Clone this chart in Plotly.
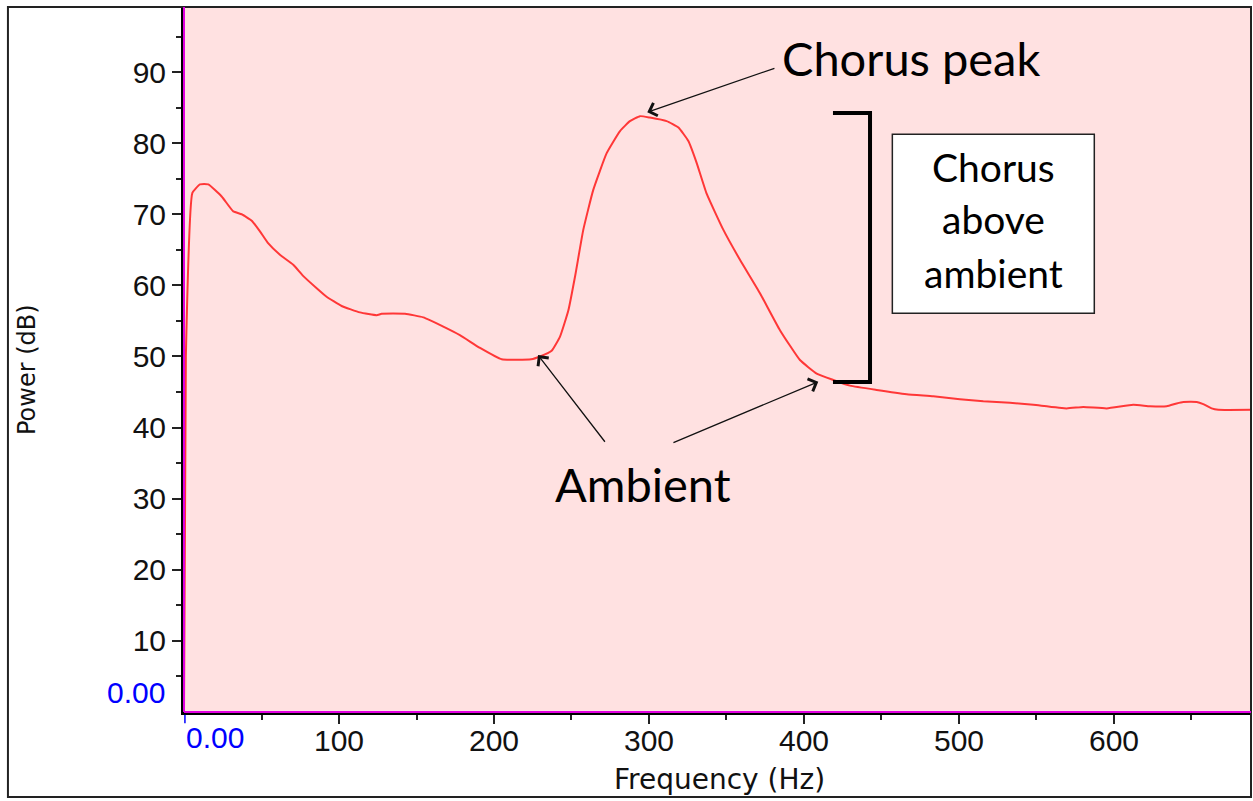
import plotly.graph_objects as go

# ---- data ----
freq_hz = [0, 1.2, 5.4, 10.3, 15.7, 24.3, 31.8, 37.2, 43.7, 49, 54.4, 61.9, 70.5, 77, 85.6, 92,
           101.7, 113.5, 124.3, 127.5, 142.6, 154.4, 167.3, 178, 191, 205, 224, 229.7, 237.2,
           242.6, 248, 252.5, 257.6, 264, 272.7, 281.3, 287.7, 294.2, 300.6, 311.4, 319, 325.4,
           330.8, 337.2, 348, 358.7, 371.6, 384.5, 397.4, 408.2, 418.9, 429.7, 446.9, 466.3,
           483.4, 500.6, 515.7, 532.9, 548, 569.5, 580.2, 595.3, 612.5, 623.2, 634, 640.4,
           644.7, 653.4, 657.6, 663, 667.3, 689.7]
power_db = [0, 50, 73.0, 74.2, 74.2, 72.5, 70.4, 70.0, 69.1, 67.6, 65.9, 64.3, 62.9, 61.3, 59.6,
            58.4, 57.1, 56.2, 55.8, 56.0, 56.0, 55.5, 54.2, 53.0, 51.2, 49.6, 49.6, 50.0, 50.8,
            52.8, 56.5, 61.5, 67.8, 73.4, 78.6, 81.7, 83.1, 83.8, 83.6, 83.1, 82.2, 80.3, 77.2,
            72.9, 67.8, 63.6, 58.9, 53.7, 49.5, 47.6, 46.7, 45.9, 45.3, 44.7, 44.4, 44.0, 43.7,
            43.5, 43.2, 42.7, 42.9, 42.7, 43.2, 43.0, 43.0, 43.4, 43.6, 43.6, 43.3, 42.7, 42.5,
            42.5]

x_tick_vals = [100, 200, 300, 400, 500, 600]
x_minor_vals = [50, 150, 250, 350, 450, 550, 650]
y_tick_vals = [10, 20, 30, 40, 50, 60, 70, 80, 90]
y_minor_vals = [5, 15, 25, 35, 45, 55, 65, 75, 85, 95]
x_title = "Frequency (Hz)"
y_title = "Power (dB)"
zero_label = "0.00"

# annotation anchor values (data units)
peak_label = "Chorus peak"
peak_point = (298.9, 84.35)
peak_tail = (381.9, 90.6)
ambient_label = "Ambient"
ambient_points = [(228.4, 50.2), (409.2, 46.45)]
ambient_tails = [(272.3, 37.8), (314.8, 37.8)]
bracket_top = 84.25
bracket_bottom = 46.41
bracket_x = (418.7, 442.6)
box_x = (457.0, 587.3)
box_y = (56.08, 81.25)
box_lines = ["Chorus", "above", "ambient"]
box_line_y = [76.6, 69.3, 61.7]

AX_FONT = "Liberation Sans, Arial, sans-serif"
TITLE_FONT = "DejaVu Sans, sans-serif"
NOTE_FONT = "Lato, Carlito, sans-serif"

fig = go.Figure()
fig.add_trace(go.Scatter(x=freq_hz, y=power_db, mode="lines",
                         line=dict(color="rgb(255,55,55)", width=2, shape="spline", smoothing=0.4),
                         hoverinfo="skip", showlegend=False))

axis_common = dict(showgrid=False, zeroline=False, showline=True, linecolor="black",
                   linewidth=3, ticks="outside", ticklen=9, tickwidth=1.5, tickcolor="#222",
                   tickfont=dict(family=AX_FONT, size=30, color="#111"))

fig.update_layout(
    width=1253, height=801,
    margin=dict(l=184, r=2, t=7, b=89),
    paper_bgcolor="white", plot_bgcolor="#FFE1E1",
    xaxis=dict(range=[0, 688.4], tickvals=x_tick_vals, ticklabelstandoff=-9,
               minor=dict(tickvals=x_minor_vals, ticks="outside", ticklen=5, tickcolor="#222",
                          tickwidth=1.5),
               **axis_common),
    yaxis=dict(range=[0, 99.15], tickvals=y_tick_vals,
               minor=dict(tickvals=y_minor_vals, ticks="outside", ticklen=5, tickcolor="#222",
                          tickwidth=1.5),
               **axis_common),
)

shapes = []
# outer frame
shapes.append(dict(type="rect", xref="paper", yref="paper", x0=-0.165, x1=1.0, y0=-0.1206, y1=1.0,
                   line=dict(color="#222", width=2), fillcolor="rgba(0,0,0,0)", layer="above"))
# magenta inner axis lines
shapes.append(dict(type="line", xref="paper", yref="paper", x0=0, x1=0, y0=0, y1=1,
                   line=dict(color="#E000E0", width=2), layer="above"))
shapes.append(dict(type="line", xref="paper", yref="paper", x0=0, x1=1, y0=0, y1=0,
                   line=dict(color="#E000E0", width=2), layer="above"))
# blue zero tick on x axis
shapes.append(dict(type="line", xref="x", yref="paper", x0=0.6, x1=0.6, y0=-0.004, y1=-0.016,
                   line=dict(color="blue", width=1.5)))
# bracket
bx0, bx1 = bracket_x
shapes.append(dict(type="path", xref="x", yref="y",
                   path=f"M {bx0},{bracket_top} L {bx1},{bracket_top} L {bx1},{bracket_bottom} L {bx0},{bracket_bottom}",
                   line=dict(color="black", width=4), layer="above"))
# box
shapes.append(dict(type="rect", xref="x", yref="y", x0=box_x[0], x1=box_x[1], y0=box_y[0], y1=box_y[1],
                   line=dict(color="#222", width=1.5), fillcolor="white", layer="above"))
fig.update_layout(shapes=shapes)

ann = []
# axis titles
ann.append(dict(text=x_title, xref="paper", yref="paper", x=(719 - 184) / 1067, y=(712 - 780) / 705,
                showarrow=False, font=dict(family=TITLE_FONT, size=28, color="#111"),
                xanchor="center", yanchor="middle"))
ann.append(dict(text=y_title, xref="paper", yref="paper", x=(27 - 184) / 1067, y=(712 - 370) / 705,
                showarrow=False, textangle=-90, font=dict(family=TITLE_FONT, size=24, color="#111"),
                xanchor="center", yanchor="middle"))
# blue zero labels
ann.append(dict(text=zero_label, xref="paper", yref="y", x=0, y=0, xanchor="right", yanchor="middle",
                xshift=-17, yshift=20, showarrow=False,
                font=dict(family=AX_FONT, size=30, color="blue")))
ann.append(dict(text=zero_label, xref="x", yref="paper", x=0, y=0, xanchor="left", yanchor="top",
                yshift=-7, showarrow=False,
                font=dict(family=AX_FONT, size=30, color="blue")))
# arrows
def arrow(head, tail):
    return dict(x=head[0], y=head[1], ax=tail[0], ay=tail[1], xref="x", yref="y",
                axref="x", ayref="y", text="", showarrow=True, arrowhead=4, arrowsize=2,
                arrowwidth=1.3, arrowcolor="#111", standoff=0)

ann.append(arrow(peak_point, peak_tail))
for h, t in zip(ambient_points, ambient_tails):
    ann.append(arrow(h, t))
# text labels
ann.append(dict(text=peak_label, xref="x", yref="y", x=(911.5 - 184) / 1.55, y=(712 - 58) / 7.11,
                showarrow=False, font=dict(family=NOTE_FONT, size=47, color="black"),
                xanchor="center", yanchor="middle"))
ann.append(dict(text=ambient_label, xref="x", yref="y", x=(643 - 184) / 1.55, y=(712 - 484) / 7.11,
                showarrow=False, font=dict(family=NOTE_FONT, size=47, color="black"),
                xanchor="center", yanchor="middle"))
for line, yy in zip(box_lines, box_line_y):
    ann.append(dict(text=line, xref="x", yref="y", x=(box_x[0] + box_x[1]) / 2, y=yy,
                    showarrow=False, font=dict(family=NOTE_FONT, size=39, color="black"),
                    xanchor="center", yanchor="middle"))
fig.update_layout(annotations=ann)

fig.write_html("out.html", post_script="document.body.style.margin='0';",
               config={"displayModeBar": False})
